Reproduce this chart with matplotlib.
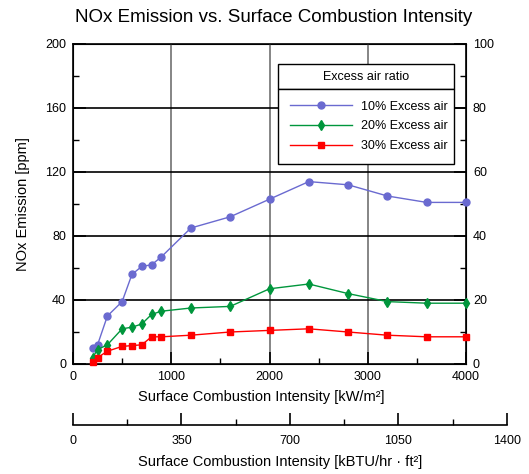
import matplotlib.pyplot as plt
import numpy as np
from matplotlib.patches import Rectangle
from matplotlib.ticker import MultipleLocator

plt.rcParams['font.family'] = ['Liberation Sans', 'DejaVu Sans']

# surface combustion intensity [kW/m2]
intensity = [200, 250, 350, 500, 600, 700, 800, 900, 1200, 1600, 2000, 2400, 2800, 3200, 3600, 4000]

# NOx emission [ppm]
nox_10 = [10, 12, 30, 39, 56, 61, 62, 67, 85, 92, 103, 114, 112, 105, 101, 101]
nox_20 = [4, 9, 12, 22, 23, 25, 31, 33, 35, 36, 47, 50, 44, 39, 38, 38]
nox_30 = [1, 4, 8, 11, 11.5, 12, 17, 17, 18, 20, 21, 22, 20, 18, 17, 17]

series_labels = ['10% Excess air', '20% Excess air', '30% Excess air']
series_colors = ['#6a6ad0', '#00963c', '#ff0000']
series_markers = ['o', 'd', 's']

KW_TO_KBTU = 0.317  # 1 kW/m2 = 0.317 kBTU/hr.ft2

W, H = 529, 474
fig = plt.figure(figsize=(W / 100, H / 100), dpi=100)

# main axes in pixel box: x 73..466, y 44..364
ax = fig.add_axes([73 / W, 1 - 364 / H, 393 / W, 320 / H])
ax.set_xlim(0, 4000)
ax.set_ylim(0, 200)

for xv in [1000, 2000, 3000]:
    ax.axvline(xv, color='#858585', lw=1.4, zorder=1)
for yv in [40, 80, 120, 160]:
    ax.axhline(yv, color='black', lw=1.2, zorder=1)

for ys, lab, col, mk in zip([nox_10, nox_20, nox_30], series_labels, series_colors, series_markers):
    ms = 5.5 if mk == 'd' else 5
    ax.plot(intensity, ys, color=col, lw=1, marker=mk, markersize=ms,
            markerfacecolor=col, markeredgecolor=col, label=lab, zorder=3, clip_on=False)

ax.xaxis.set_major_locator(MultipleLocator(1000))
ax.xaxis.set_minor_locator(MultipleLocator(500))
ax.yaxis.set_major_locator(MultipleLocator(40))
ax.yaxis.set_minor_locator(MultipleLocator(20))
ax.tick_params(which='major', direction='in', length=9, width=1.2, labelsize=9, pad=5)
ax.tick_params(which='minor', direction='in', length=4.5, width=1.0)
for sp in ax.spines.values():
    sp.set_linewidth(1.2)

ax.set_xlabel('Surface Combustion Intensity [kW/m²]', fontsize=10.5, labelpad=5)
ax.xaxis.label.set_x((261 - 73) / 393)
ax.set_ylabel('NOx Emission [ppm]', fontsize=10.5, labelpad=11)
fig.text(273.5 / W, 1 - 17 / H, 'NOx Emission vs. Surface Combustion Intensity',
         fontsize=13.5, ha='center', va='center')

# right axis, half scale
axr = ax.twinx()
axr.set_ylim(0, 100)
axr.yaxis.set_major_locator(MultipleLocator(20))
axr.yaxis.set_minor_locator(MultipleLocator(10))
axr.tick_params(which='major', direction='in', length=9, width=1.2, labelsize=9, pad=5)
axr.tick_params(which='minor', direction='in', length=4.5, width=1.0)

# legend: title box + entries box
x0, x1 = (278 - 73) / 393, (454 - 73) / 393
ax.add_patch(Rectangle((x0, (364 - 89) / 320), x1 - x0, 25 / 320, transform=ax.transAxes,
                       facecolor='white', edgecolor='black', lw=1, zorder=5))
ax.text((x0 + x1) / 2, (364 - 76.5) / 320, 'Excess air ratio', transform=ax.transAxes,
        ha='center', va='center', fontsize=9, zorder=6)
leg = ax.legend(loc='upper left', bbox_to_anchor=(x0, (364 - 92) / 320, x1 - x0, 0.01),
                mode='expand', borderaxespad=0, fontsize=9, handlelength=5.0,
                handletextpad=0.7, labelspacing=0.62, borderpad=0.95, fancybox=False,
                framealpha=1, edgecolor='black')
leg.get_frame().set_linewidth(1)
leg.set_zorder(5)
ax.set_zorder(axr.get_zorder() + 1)
ax.patch.set_visible(False)

# secondary unit axis below
kbtu_max = 1400
span = 393 * (kbtu_max / KW_TO_KBTU) / 4000
ax2 = fig.add_axes([73 / W, 1 - 425 / H, span / W, 0.0001])
ax2.set_xlim(0, kbtu_max)
ax2.set_yticks([])
for s in ['left', 'right', 'top']:
    ax2.spines[s].set_visible(False)
ax2.spines['bottom'].set_linewidth(1.2)
ax2.patch.set_visible(False)
ax2.xaxis.set_major_locator(MultipleLocator(350))
ax2.xaxis.set_minor_locator(MultipleLocator(175))
ax2.tick_params(which='major', direction='in', length=9, width=1.2, labelsize=9, pad=7)
ax2.tick_params(which='minor', direction='in', length=4.5, width=1.0)
ax2.set_xlabel('Surface Combustion Intensity [kBTU/hr · ft²]', fontsize=10.5, labelpad=6)
ax2.xaxis.label.set_x((280 - 73) / span)

fig.savefig('out.png', dpi=100)
